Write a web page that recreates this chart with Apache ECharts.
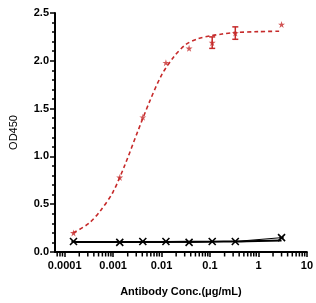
<!DOCTYPE html>
<html>
<head>
<meta charset="utf-8">
<script src="https://cdn.jsdelivr.net/npm/echarts@6/dist/echarts.min.js"></script>
<style>
  html, body { margin: 0; padding: 0; background: #fff; }
  #chart { width: 316px; height: 303px; }
</style>
</head>
<body>
<div id="chart"></div>
<script>
// concentrations (ug/mL)
var conc = [0.000152, 0.00137, 0.0041, 0.0123, 0.037, 0.111, 0.333, 3];
// red sample: mean and error
var redMean = [0.20, 0.78, 1.41, 1.98, 2.13, 2.19, 2.29, 2.38];
var redErr = [0, 0, 0, 0, 0, 0.06, 0.065, 0];
// red fitted curve
var redFitX = [0.000151, 0.000316, 0.000562, 0.001, 0.00178, 0.00316, 0.00562, 0.01, 0.0178, 0.0316, 0.0562, 0.1, 0.178, 0.316, 1, 3];
var redFitY = [0.20, 0.30, 0.44, 0.63, 0.92, 1.25, 1.57, 1.85, 2.04, 2.17, 2.23, 2.26, 2.28, 2.295, 2.305, 2.31];
// black control
var blackMean = [0.11, 0.10, 0.11, 0.11, 0.10, 0.11, 0.11, 0.15];
var blackFitX = [0.000152, 0.0123, 0.111, 0.333, 1, 3];
var blackFitY = [0.105, 0.105, 0.108, 0.11, 0.115, 0.12];
// x axis ticks
var xMajor = [0.0001, 0.001, 0.01, 0.1, 1];
var xMinorMult = [2, 3, 4, 5, 6, 7, 8, 9];

var red = "#c62a2a";
var starPath = "path://M50,0L61,35L98,35L68,57L79,91L50,70L21,91L32,57L2,35L39,35Z";
var xPath = "path://M0,0L10,10M10,0L0,10M2,5L8,5";

function pairs(xs, ys) {
  return xs.map(function (x, i) { return [x, ys[i]]; });
}

var minorTicks = [0.00007, 0.00008, 0.00009];
xMajor.forEach(function (d) {
  xMinorMult.forEach(function (m) { minorTicks.push(d * m); });
});

var errData = [];
conc.forEach(function (x, i) {
  if (redErr[i] > 0) errData.push([x, redMean[i] - redErr[i], redMean[i] + redErr[i]]);
});

var myChart = echarts.init(document.getElementById("chart"));
var font = "Liberation Sans, Arial, sans-serif";

var options = {
  animation: false,
  grid: { left: 50, right: 8, top: 13, bottom: 51 },
  xAxis: {
    type: "log",
    logBase: 10,
    min: 0.0000631,
    max: 10,
    name: "Antibody Conc.(μg/mL)",
    nameLocation: "middle",
    nameGap: 34,
    nameTextStyle: { color: "#000", fontSize: 11, fontWeight: "bold", fontFamily: font },
    axisLine: { lineStyle: { color: "#000", width: 2 } },
    axisTick: { length: 5, lineStyle: { color: "#000", width: 1.5 } },
    axisLabel: {
      showMinLabel: false,
      color: "#000", fontSize: 11, fontWeight: "bold", fontFamily: font, margin: 8,
      formatter: function (v) {
        if (v < 0.00009) return "";
        return String(+v.toPrecision(1));
      }
    },
    splitLine: { show: false }
  },
  yAxis: {
    type: "value",
    min: 0,
    max: 2.5,
    interval: 0.5,
    name: "OD450",
    nameLocation: "middle",
    nameGap: 36,
    nameTextStyle: { color: "#000", fontSize: 11, fontFamily: font },
    axisLine: { show: true, lineStyle: { color: "#000", width: 2 } },
    axisTick: { show: true, length: 5, lineStyle: { color: "#000", width: 1.5 } },
    minorTick: { show: true, splitNumber: 5, length: 3, lineStyle: { color: "#000", width: 1.5 } },
    axisLabel: {
      color: "#000", fontSize: 11, fontWeight: "bold", fontFamily: font, margin: 6,
      formatter: function (v) { return v.toFixed(1); }
    },
    splitLine: { show: false }
  },
  series: [
    {
      type: "line",
      data: pairs(blackFitX, blackFitY),
      smooth: true,
      smoothMonotone: "x",
      showSymbol: false,
      lineStyle: { color: "#000", width: 2 },
      silent: true
    },
    {
      type: "line",
      data: pairs(conc, blackMean),
      symbol: xPath,
      symbolSize: 7,
      showSymbol: true,
      itemStyle: { color: "none", borderColor: "#000", borderWidth: 1.6 },
      lineStyle: { color: "#000", width: 1 }
    },
    {
      type: "line",
      data: pairs(redFitX, redFitY),
      smooth: 0.3,
      showSymbol: false,
      lineStyle: { color: red, width: 1.6, type: [4, 3] },
      silent: true
    },
    {
      type: "custom",
      data: errData,
      renderItem: function (params, api) {
        var top = api.coord([api.value(0), api.value(2)]);
        var bot = api.coord([api.value(0), api.value(1)]);
        var w = 3;
        var st = { stroke: red, lineWidth: 1.5 };
        return {
          type: "group",
          children: [
            { type: "line", shape: { x1: top[0], y1: top[1], x2: bot[0], y2: bot[1] }, style: st },
            { type: "line", shape: { x1: top[0] - w, y1: top[1], x2: top[0] + w, y2: top[1] }, style: st },
            { type: "line", shape: { x1: bot[0] - w, y1: bot[1], x2: bot[0] + w, y2: bot[1] }, style: st }
          ]
        };
      },
      z: 3
    },
    {
      type: "scatter",
      data: pairs(conc, redMean),
      symbol: starPath,
      symbolSize: 7,
      itemStyle: { color: red },
      z: 4
    }
  ]
};
myChart.setOption(options);

// log-spaced minor ticks under the x axis, placed with the chart's own scale
var y0 = myChart.convertToPixel({ yAxisIndex: 0 }, 0);
myChart.setOption({
  graphic: minorTicks.map(function (v) {
    var px = myChart.convertToPixel({ xAxisIndex: 0 }, v);
    return {
      type: "line",
      z: 100,
      shape: { x1: px, y1: y0 + 1, x2: px, y2: y0 + 4.5 },
      style: { stroke: "#000", lineWidth: 1.5 },
      silent: true
    };
  })
});
</script>
</body>
</html>
